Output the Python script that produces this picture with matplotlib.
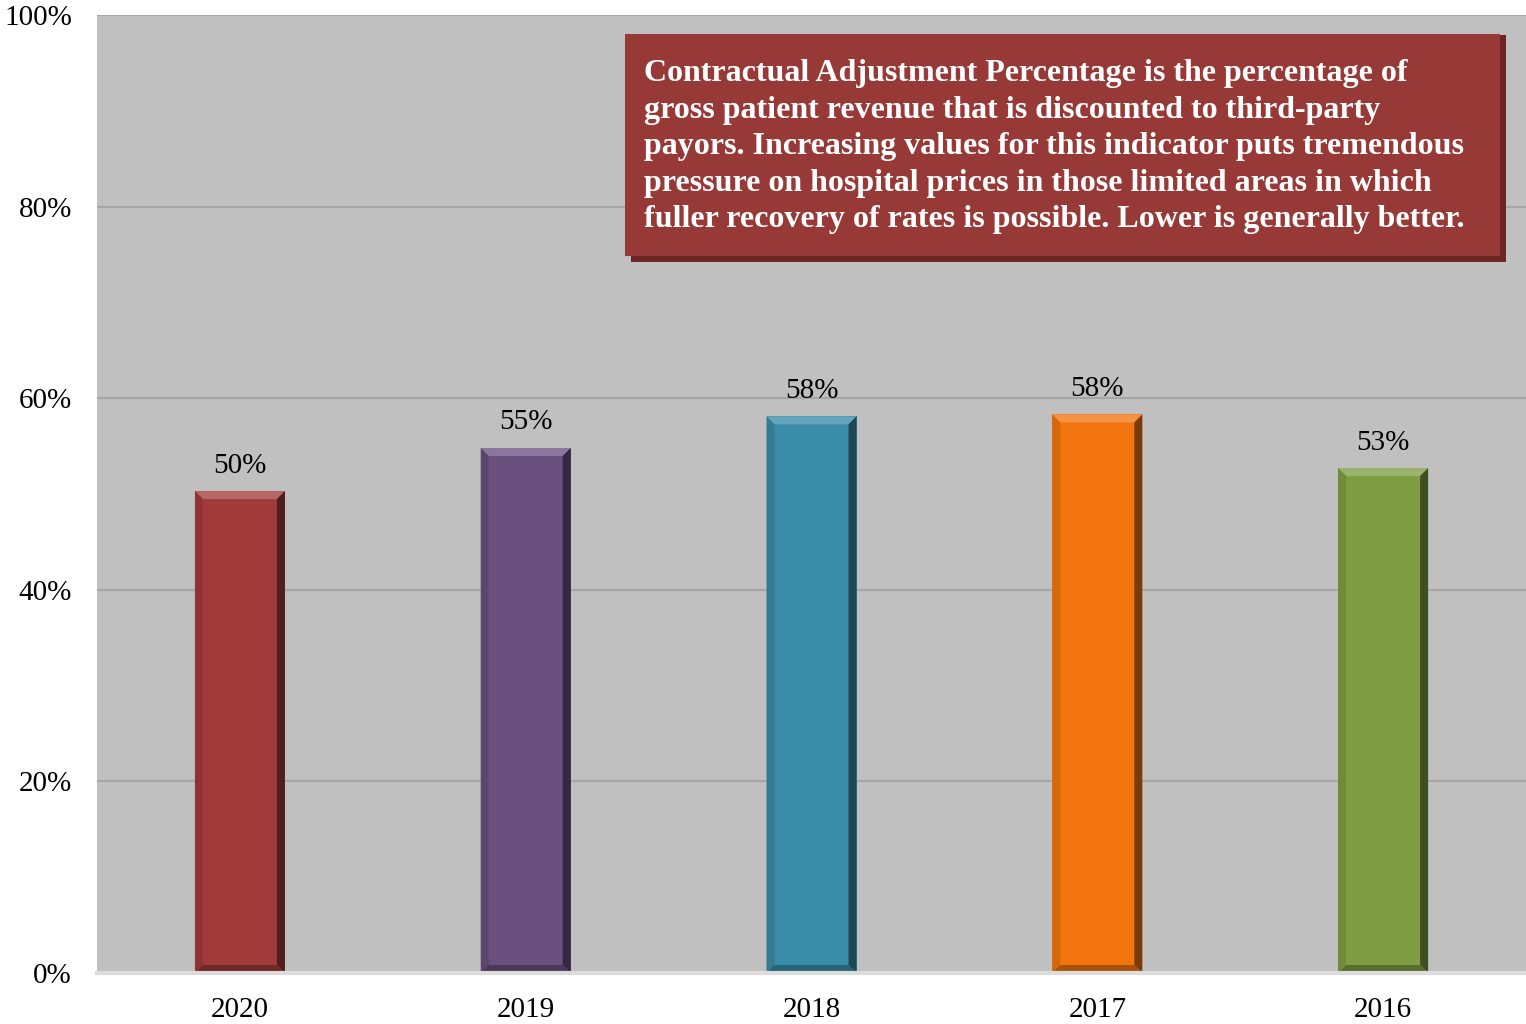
import matplotlib.pyplot as plt
import matplotlib.patches as mpatches
from matplotlib.ticker import FuncFormatter
import numpy as np

years = ["2020", "2019", "2018", "2017", "2016"]
values = [50.3, 54.8, 58.1, 58.3, 52.7]
labels = ["50%", "55%", "58%", "58%", "53%"]
colors = ["#A03B39", "#69507F", "#3A8DA8", "#F2750F", "#7F9E44"]

note = ("Contractual Adjustment Percentage is the percentage of\n"
        "gross patient revenue that is discounted to third-party\n"
        "payors. Increasing values for this indicator puts tremendous\n"
        "pressure on hospital prices in those limited areas in which\n"
        "fuller recovery of rates is possible. Lower is generally better.")

plt.rcParams['font.family'] = ['Liberation Serif', 'DejaVu Serif']

fig = plt.figure(figsize=(15.26, 10.24), dpi=100)
ax = fig.add_axes([0.0636, 0.0498, 0.9364, 0.9356])
ax.set_facecolor("#C0C0C0")

x = np.arange(len(years))
bars = ax.bar(x, values, width=0.315, color=colors, zorder=3)

ax.set_xlim(-0.5, len(years) - 0.5)
ax.set_ylim(0, 100)
ax.set_yticks(range(0, 101, 20))
ax.yaxis.set_major_formatter(FuncFormatter(lambda v, p: "%d%%" % v))
ax.set_xticks(x)
ax.set_xticklabels(years)
ax.tick_params(axis='both', length=0, labelsize=21, colors="black")
ax.tick_params(axis='x', pad=17)
ax.tick_params(axis='y', pad=18)
ax.grid(axis='y', color="#A6A6A6", linewidth=1.5, zorder=1)

for s in ["left", "right", "top"]:
    ax.spines[s].set_visible(False)
ax.spines["bottom"].set_color("#DCDCDC")
ax.spines["bottom"].set_linewidth(3)
ax.spines["bottom"].set_zorder(4)

# bevel shading on each bar (size given in pixels, converted to data units)
fig.canvas.draw()
inv = ax.transData.inverted()
p0 = inv.transform((0, 0))
p1 = inv.transform((8, 8))
bx, by = p1[0] - p0[0], p1[1] - p0[1]


def shade(c, f):
    c = np.array(plt.matplotlib.colors.to_rgb(c))
    if f >= 0:
        return tuple(c + (1 - c) * f)
    return tuple(c * (1 + f))


for b, c in zip(bars, colors):
    x0, w, h = b.get_x(), b.get_width(), b.get_height()
    x1 = x0 + w
    faces = [
        ([(x0, h), (x1, h), (x1 - bx, h - by), (x0 + bx, h - by)], shade(c, 0.22)),
        ([(x1, h), (x1, 0), (x1 - bx, by), (x1 - bx, h - by)], shade(c, -0.5)),
        ([(x0, h), (x0, 0), (x0 + bx, by), (x0 + bx, h - by)], shade(c, -0.12)),
        ([(x0, 0), (x1, 0), (x1 - bx, by), (x0 + bx, by)], shade(c, -0.3)),
    ]
    for pts, fc in faces:
        ax.add_patch(mpatches.Polygon(pts, closed=True, facecolor=fc,
                                      edgecolor="none", zorder=4))

for b, lab in zip(bars, labels):
    ax.annotate(lab, (b.get_x() + b.get_width() / 2, b.get_height()),
                xytext=(0, 9), textcoords="offset points",
                ha="center", va="bottom", fontsize=21, zorder=5)

# note box with drop shadow
ax.add_patch(mpatches.Rectangle((0.3737, 0.742), 0.6125, 0.237,
                                transform=ax.transAxes, facecolor="#6B2524",
                                edgecolor="none", zorder=6, clip_on=False))
ax.add_patch(mpatches.Rectangle((0.3695, 0.748), 0.6125, 0.232,
                                transform=ax.transAxes, facecolor="#973A37",
                                edgecolor="none", zorder=7, clip_on=False))
ax.text(0.3828, 0.9535, note, transform=ax.transAxes, ha="left", va="top",
        fontsize=23, fontweight="bold", color="white",
        linespacing=1.335, zorder=8)

fig.savefig("out.png", dpi=100)
